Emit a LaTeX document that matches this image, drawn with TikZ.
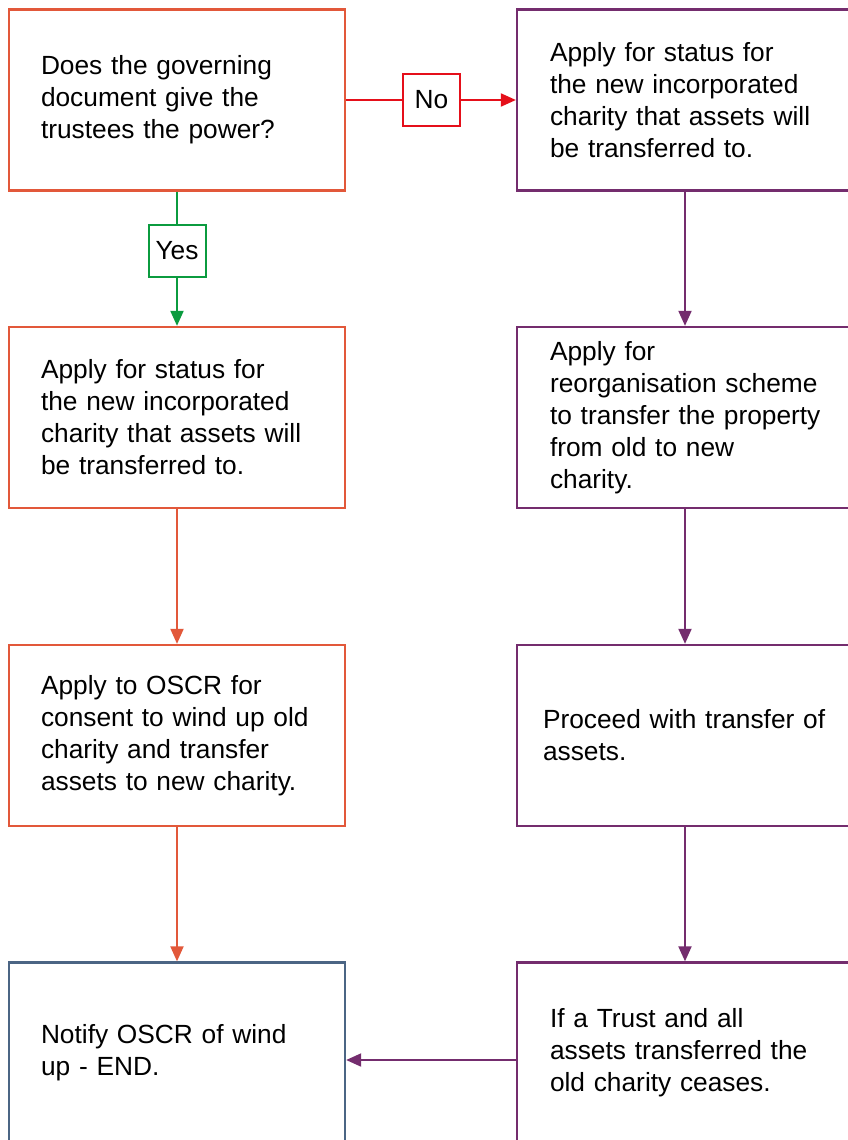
\documentclass[tikz,border=0pt]{standalone}
\usepackage{fontspec}
\setmainfont{Liberation Sans}
\usetikzlibrary{arrows.meta}
\definecolor{corange}{HTML}{E2583A}
\definecolor{cpurple}{HTML}{742D6E}
\definecolor{cslate}{HTML}{4B6584}
\definecolor{cred}{HTML}{E50F1A}
\definecolor{cgreen}{HTML}{0B9B3F}
\newcommand{\oneline}[1]{\mbox{#1}}
\begin{document}
\begin{tikzpicture}[x=1pt,y=-1pt,
  box/.style={draw, line width=2.3pt, fill=white, minimum width=336pt, minimum height=181pt,
    inner xsep=32pt, inner ysep=0pt, text width=272pt, align=left,
    font=\fontsize{26.3}{32}\selectfont, anchor=center},
  rbox/.style={box, draw=cpurple, inner xsep=33pt, text width=270pt},
  lbox/.style={box, draw=corange},
  tag/.style={draw, line width=2pt, fill=white, minimum width=57pt, minimum height=52pt,
    inner sep=0pt, font=\fontsize{26.3}{32}\selectfont},
  conn/.style={line width=2pt, -{Triangle[length=15pt,width=13pt]}},
  plain/.style={line width=2pt}]
\useasboundingbox (0,0) rectangle (848,1140);
\clip (0,0) rectangle (848,1140);
\node[lbox] (l1) at (177,100) {\oneline{Does the governing}\\\oneline{document give the}\\\oneline{trustees the power?}};
\node[lbox] (l2) at (177,417.5) {\oneline{Apply for status for}\\\oneline{the new incorporated}\\\oneline{charity that assets will}\\\oneline{be transferred to.}};
\node[lbox] (l3) at (177,735.5) {\oneline{Apply to OSCR for}\\\oneline{consent to wind up old}\\\oneline{charity and transfer}\\\oneline{assets to new charity.}};
\node[box, draw=cslate] (l4) at (177,1053) {\oneline{Notify OSCR of wind}\\\oneline{up - END.}};
\node[rbox] (r1) at (685,100) {\oneline{Apply for status for}\\\oneline{the new incorporated}\\\oneline{charity that assets will}\\\oneline{be transferred to.}};
\node[rbox] (r2) at (685,417.5) {\oneline{Apply for}\\\oneline{reorganisation scheme}\\\oneline{to transfer the property}\\\oneline{from old to new}\\\oneline{charity.}};
\node[rbox, inner xsep=26pt, text width=284pt] (r3) at (685,735.5) {\oneline{Proceed with transfer of}\\\oneline{assets.}};
\node[rbox] (r4) at (685,1053) {\oneline{If a Trust and all}\\\oneline{assets transferred the}\\\oneline{old charity ceases.}};
\node[tag, draw=cred] (no) at (431.5,100) {No};
\node[tag, draw=cgreen] (yes) at (177,251) {Yes};
\draw[plain, cred] (l1.east) -- (no.west);
\draw[conn, cred] (no.east) -- (r1.west);
\draw[plain, cgreen] (l1.south) -- (yes.north);
\draw[conn, cgreen] (yes.south) -- (l2.north);
\draw[conn, corange] (l2.south) -- (l3.north);
\draw[conn, corange] (l3.south) -- (l4.north);
\draw[conn, cpurple] (r1.south) -- (r2.north);
\draw[conn, cpurple] (r2.south) -- (r3.north);
\draw[conn, cpurple] (r3.south) -- (r4.north);
\draw[conn, cpurple] ([yshift=-7pt]r4.west) -- ([yshift=-7pt]l4.east);
\end{tikzpicture}
\end{document}
